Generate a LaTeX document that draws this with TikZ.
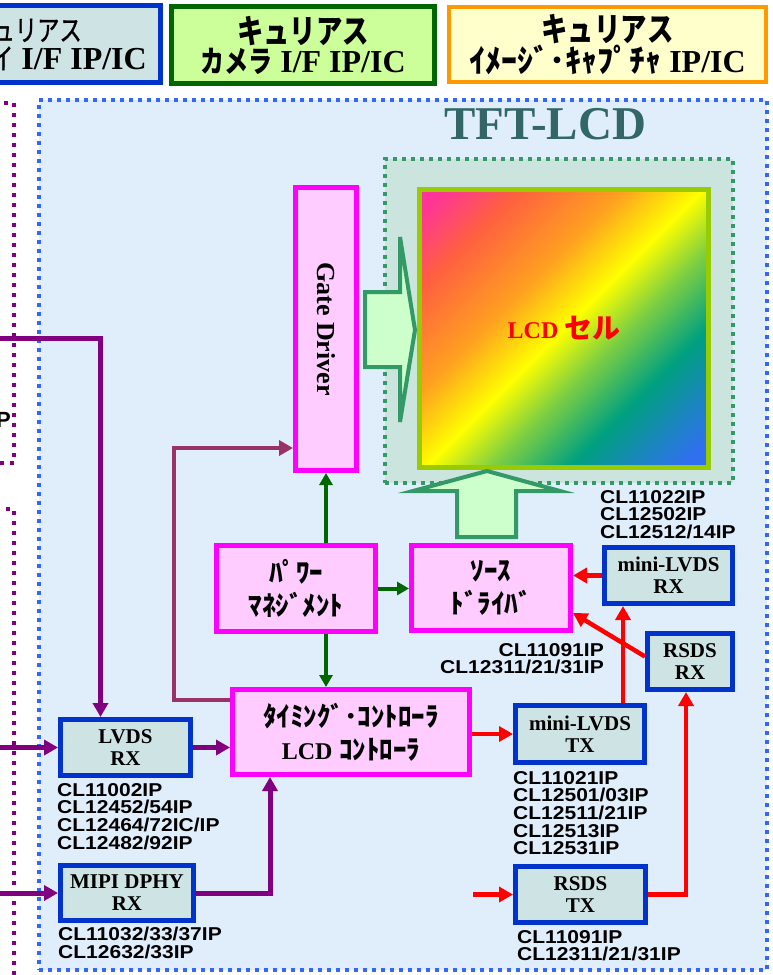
\documentclass[tikz,border=0pt]{standalone}
\usepackage{fontspec}
\usepackage{graphicx}
\setmainfont{Liberation Serif}
\newfontfamily\jpfont{Noto Sans CJK JP}
\newfontfamily\hdrjp[FakeStretch=0.8]{Noto Sans CJK JP}
\newfontfamily\thinjp[FakeStretch=0.77,FakeBold=1]{Noto Sans CJK JP}
\newfontfamily\codefont[FakeStretch=1.13]{Liberation Sans}
\usetikzlibrary{arrows.meta,calc}

\definecolor{ipblue}{HTML}{0033CC}
\definecolor{ipfill}{RGB}{206,228,228}
\definecolor{drvpink}{HTML}{FF00FF}
\definecolor{drvfill}{HTML}{FFCCFF}
\definecolor{camgreen}{HTML}{006600}
\definecolor{camfill}{HTML}{CCFF99}
\definecolor{caporange}{HTML}{FF9900}
\definecolor{capfill}{HTML}{FFFFCC}
\definecolor{lcdblue}{HTML}{3366FF}
\definecolor{lcdbg}{RGB}{224,238,252}
\definecolor{cellgreen}{HTML}{339966}
\definecolor{cellbg}{RGB}{204,228,222}
\definecolor{cellframe}{HTML}{99CC00}
\definecolor{hollowfill}{HTML}{CCFFCC}
\definecolor{sigpurple}{HTML}{800080}
\definecolor{ctlmaroon}{HTML}{993366}
\definecolor{pwrgreen}{HTML}{006600}
\definecolor{titleteal}{HTML}{336666}
\definecolor{cpink}{HTML}{FF3399}
\definecolor{cred}{HTML}{FF6040}
\definecolor{corange}{HTML}{FFA020}
\definecolor{cyellow}{HTML}{FFFF00}
\definecolor{cgreen}{HTML}{80D040}
\definecolor{cteal}{HTML}{00A080}
\definecolor{cblue}{HTML}{3070F0}

\pgfdeclarehorizontalshading{lcdcell}{100bp}{color(0bp)=(cpink); color(17bp)=(cpink);
  color(27bp)=(cred); color(40bp)=(corange); color(50bp)=(cyellow); color(58bp)=(cgreen);
  color(68bp)=(cteal); color(82bp)=(cblue); color(100bp)=(cblue)}

\newcommand{\kana}[1]{{\jpfont #1}}
\newcommand{\hkana}[1]{{\hdrjp\fontsize{33}{29}\selectfont #1}}
\newcommand{\tkana}[1]{{\thinjp\mdseries\fontsize{29}{29}\selectfont #1}}

\tikzset{
  ipbox/.style={draw=ipblue, fill=ipfill, line width=5pt, inner sep=0pt, align=center,
    font=\fontsize{21}{22}\selectfont\bfseries},
  drvbox/.style={draw=drvpink, fill=drvfill, line width=5pt, inner sep=0pt, align=center,
    font=\fontsize{27}{33}\selectfont\bfseries},
  hdrbox/.style={line width=5pt, inner sep=0pt, align=center,
    font=\fontsize{32}{29}\selectfont\bfseries},
  codes/.style={inner sep=0pt, align=left, font=\codefont\fontsize{18.6}{17.7}\selectfont\bfseries},
  dotframe/.style={line width=4pt, dash pattern=on 4pt off 5pt},
  sigline/.style={draw=sigpurple, line width=5pt, -{Triangle[length=14pt,width=15pt]}},
  ctlline/.style={draw=ctlmaroon, line width=4.5pt, -{Triangle[length=14pt,width=15pt]}},
  pwrline/.style={draw=pwrgreen, line width=4pt, -{Triangle[length=12pt,width=13pt]}},
  rsline/.style={draw=red, line width=4.5pt, -{Triangle[length=14pt,width=15pt]}},
  hollow/.style={draw=cellgreen, fill=hollowfill, line width=4pt, line join=miter}
}

\begin{document}
\begin{tikzpicture}[x=1pt,y=-1pt]
  \useasboundingbox (0,0) rectangle (772,975);
  \clip (0,0) rectangle (772,975);

  % TFT-LCD area and the interface frames on the left
  \node[dotframe, draw=lcdblue, fill=lcdbg, minimum width=728pt, minimum height=870pt] (tft) at (403,535) {};
  \draw[dotframe, draw=sigpurple, line width=3.5pt, dash pattern=on 4pt off 6pt] (-20,103) rectangle (14,463);
  \draw[dotframe, draw=sigpurple, line width=3.5pt, dash pattern=on 4pt off 6pt] (-20,509) rectangle (14,1000);
  \node[anchor=east, inner sep=0pt, font=\fontspec{Liberation Sans}\fontsize{22}{22}\selectfont\bfseries] (ifp) at (11,420) {P};

  % header
  \node[hdrbox, draw=ipblue, fill=ipfill, minimum width=265pt, minimum height=77pt] (hdrdisp) at (28,44) {};
  \node[anchor=east, inner sep=0pt] (hdrdisp1) at (82,30) {\tkana{キュリアス}};
  \node[anchor=east, inner sep=0pt, font=\fontsize{32}{29}\selectfont\bfseries] (hdrdisp2) at (147,58)
    {\tkana{ディスプレイ} I/F IP/IC};
  \node[hdrbox, draw=camgreen, fill=camfill, minimum width=263pt, minimum height=77pt] (hdrcam) at (303,45)
    {\hkana{キュリアス}\\{\hdrjp\fontsize{30}{29}\selectfont カメラ} I/F IP/IC};
  \node[hdrbox, draw=caporange, fill=capfill, line width=4pt, minimum width=317pt, minimum height=75pt] (hdrcap) at (607.5,44.5)
    {\hkana{キュリアス}\\{\jpfont\fontsize{32}{29}\selectfont ｲﾒｰｼﾞ･ｷｬﾌﾟﾁｬ} IP/IC};

  % panel
  \node[dotframe, draw=cellgreen, fill=cellbg, minimum width=348pt, minimum height=324pt] (lcdarea) at (559,321) {};
  \node[shade, shading=lcdcell, shading angle=-45, draw=cellframe, line width=5pt, minimum width=289pt,
    minimum height=278pt, text=red, font=\fontsize{24}{28}\selectfont\bfseries] (cell) at (564,328.5)
    {LCD \kana{\fontsize{28}{28}\selectfont セル}};
  \node[text=titleteal, font=\fontsize{47}{47}\selectfont\bfseries] (title) at (545,124) {TFT-LCD};

  % blocks
  \node[drvbox, minimum width=61pt, minimum height=283pt, font=\fontsize{26}{26}\selectfont\bfseries] (gate) at (326,329)
    {\rotatebox{-90}{Gate Driver}};
  \node[drvbox, minimum width=159pt, minimum height=86pt] (power) at (296,588.5) {\kana{ﾊﾟﾜｰ}\\\kana{ﾏﾈｼﾞﾒﾝﾄ}};
  \node[drvbox, minimum width=237pt, minimum height=85pt] (timing) at (351,732)
    {\kana{ﾀｲﾐﾝｸﾞ･ｺﾝﾄﾛｰﾗ}\\{\fontsize{24}{33}\selectfont LCD} \kana{ｺﾝﾄﾛｰﾗ}};
  \node[drvbox, minimum width=159pt, minimum height=85pt] (source) at (491,588) {\kana{ｿｰｽ}\\\kana{ﾄﾞﾗｲﾊﾞ}};

  \node[ipbox, minimum width=130pt, minimum height=56pt] (lvdsrx) at (125.5,747.5) {LVDS\\RX};
  \node[ipbox, minimum width=133pt, minimum height=55pt] (mipirx) at (127,893) {MIPI DPHY\\RX};
  \node[ipbox, minimum width=128pt, minimum height=56pt] (mlvdsrx) at (668.5,575.5) {mini-LVDS\\RX};
  \node[ipbox, minimum width=85pt, minimum height=56pt] (rsdsrx) at (690,661.5) {RSDS\\RX};
  \node[ipbox, minimum width=129pt, minimum height=57pt] (mlvdstx) at (580,734) {mini-LVDS\\TX};
  \node[ipbox, minimum width=130pt, minimum height=56pt] (rsdstx) at (580.5,894.5) {RSDS\\TX};

  % wide arrows into the panel
  \draw[hollow] ($(gate.east)+(6,-37)$) -- ++(35,0) -- ++(0,-55) -- ++(15,93) -- ++(-15,92)
    -- ++(0,-55) -- ++(-35,0) -- cycle;
  \draw[hollow] ($(source.north)+(-34,-6)$) -- ++(0,-46) -- ++(-44,0) -- ++(74,-20) -- ++(73,20)
    -- ++(-44,0) -- ++(0,46) -- cycle;

  % IP numbers
  \node[codes, anchor=north west] (lvdscl) at (57,783) {CL11002IP\\CL12452/54IP\\CL12464/72IC/IP\\CL12482/92IP};
  \node[codes, anchor=north west] (mipicl) at (58,927) {CL11032/33/37IP\\CL12632/33IP};
  \node[codes, anchor=north west] (mrxcl) at (600,490) {CL11022IP\\CL12502IP\\CL12512/14IP};
  \node[codes, anchor=north east, align=right] (rrxcl) at (604,643) {CL11091IP\\CL12311/21/31IP};
  \node[codes, anchor=north west] (mtxcl) at (513,771) {CL11021IP\\CL12501/03IP\\CL12511/21IP\\CL12513IP\\CL12531IP};
  \node[codes, anchor=north west] (rtxcl) at (517,930) {CL11091IP\\CL12311/21/31IP};

  % signals
  \coordinate (in1) at (-10,338);
  \coordinate (in2) at (-10,747.5);
  \coordinate (in3) at (-10,893);
  \coordinate (rin) at (473,894.5);
  \draw[sigline] (in1) -| ([xshift=-25pt]lvdsrx.north);
  \draw[sigline] (in2) -- (lvdsrx.west);
  \draw[sigline] (in3) -- (mipirx.west);
  \draw[sigline] (lvdsrx.east) -- (lvdsrx.east -| timing.west);
  \draw[sigline] (mipirx.east) -| ([xshift=-81pt]timing.south);
  \draw[ctlline] ([yshift=-13pt]timing.north west) -- ++(-56,0) |- ([yshift=-119pt]gate.west);

  \draw[pwrline] (power.north -| gate.south) -- (gate.south);
  \draw[pwrline] (power.south -| gate.south) -- (timing.north -| gate.south);
  \draw[pwrline] (power.east) -- (power.east -| source.west);

  \draw[rsline] (mlvdstx.west -| timing.east) -- (mlvdstx.west);
  \draw[rsline] ([xshift=43pt]mlvdstx.north) -- ([xshift=43pt]mlvdstx.north |- mlvdsrx.south);
  \draw[rsline] (mlvdsrx.west) -- (mlvdsrx.west -| source.east);
  \draw[rsline] ([yshift=5pt]rsdsrx.west) -- ([yshift=-25pt]source.east);
  \draw[rsline] (rin) -- (rsdstx.west);
  \draw[rsline] (rsdstx.east) -| ([xshift=-4pt]rsdsrx.south);
\end{tikzpicture}
\end{document}
